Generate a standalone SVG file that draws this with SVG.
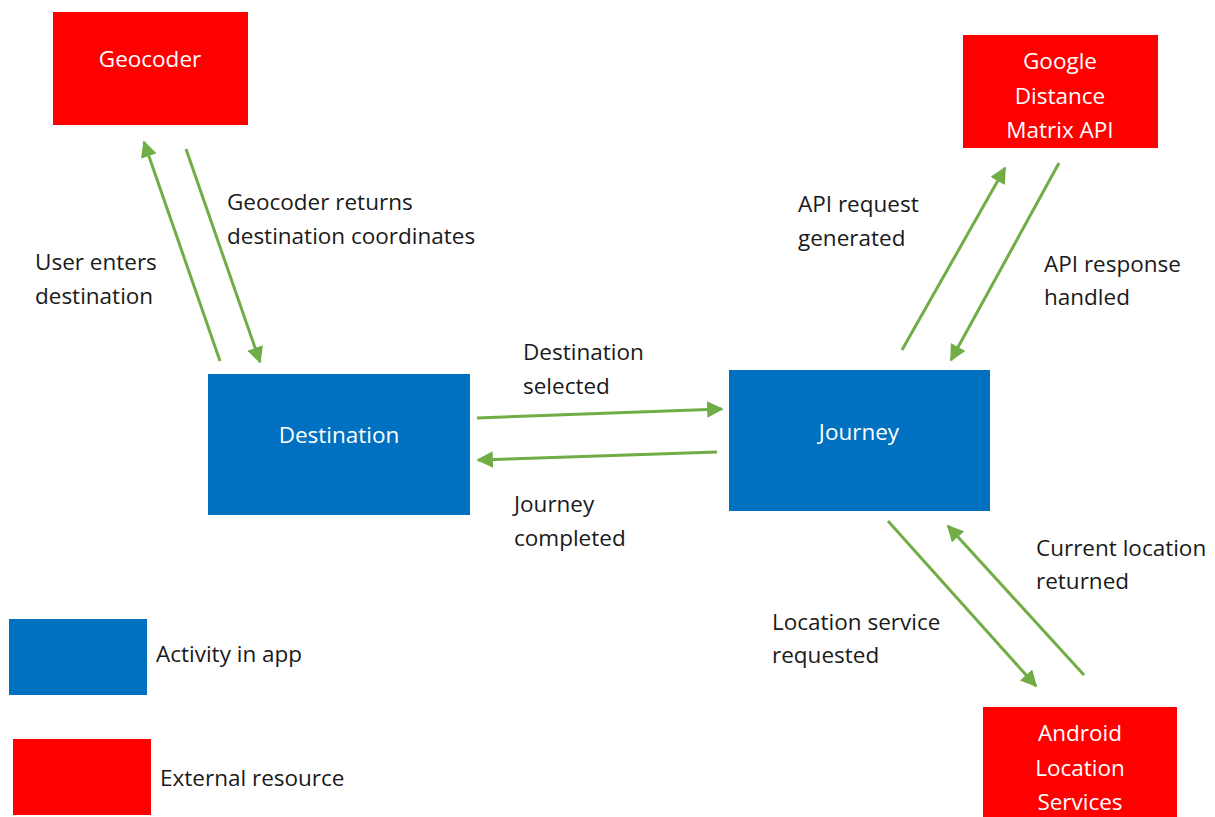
<svg xmlns="http://www.w3.org/2000/svg" width="1215" height="817" viewBox="0 0 1215 817">
<style>
.ext{fill:#FF0000}
.act{fill:#0070C0}
.nt{font-family:"Open Sans","Noto Sans",sans-serif;font-size:22.5px;fill:#FFFFFF;text-anchor:middle;dominant-baseline:central}
.lb{font-family:"Open Sans","Noto Sans",sans-serif;font-size:22.5px;fill:#1a1a1a;dominant-baseline:central}
.cn{stroke:#70AD47;stroke-width:3;fill:none;marker-end:url(#ah)}
</style>
<defs>
<marker id="ah" viewBox="0 0 10 10" refX="9" refY="5" markerWidth="5.5" markerHeight="5.5" orient="auto" markerUnits="strokeWidth">
<path d="M0,0 L10,5 L0,10 z" fill="#70AD47"/>
</marker>
</defs>
<rect width="1215" height="817" fill="#FFFFFF"/>
<g id="geocoder">
<rect class="ext" x="53" y="12" width="195" height="113"/>
<text class="nt" x="150" y="58">Geocoder</text>
</g>
<g id="google">
<rect class="ext" x="963" y="35" width="195" height="113"/>
<text class="nt" x="1060" y="60">Google</text>
<text class="nt" x="1060" y="95">Distance</text>
<text class="nt" x="1060" y="129">Matrix API</text>
</g>
<g id="destination">
<rect class="act" x="208" y="374" width="262" height="141"/>
<text class="nt" x="339" y="434">Destination</text>
</g>
<g id="journey">
<rect class="act" x="729" y="370" width="261" height="141"/>
<text class="nt" x="859" y="431">Journey</text>
</g>
<g id="android">
<rect class="ext" x="983" y="707" width="194" height="115"/>
<text class="nt" x="1080" y="732">Android</text>
<text class="nt" x="1080" y="767">Location</text>
<text class="nt" x="1080" y="801">Services</text>
</g>
<g id="legend">
<rect class="act" x="9" y="619" width="138" height="76"/>
<text class="lb" x="156" y="653">Activity in app</text>
<rect class="ext" x="13" y="739" width="138" height="76"/>
<text class="lb" x="160" y="777">External resource</text>
</g>
<g id="connectors">
<line class="cn" x1="220" y1="361" x2="144" y2="142"/>
<line class="cn" x1="186" y1="149" x2="260" y2="362"/>
<line class="cn" x1="902" y1="350" x2="1005" y2="168"/>
<line class="cn" x1="1059" y1="163" x2="951" y2="360"/>
<line class="cn" x1="477" y1="418" x2="722" y2="409"/>
<line class="cn" x1="717" y1="452" x2="478" y2="460"/>
<line class="cn" x1="888" y1="521" x2="1036" y2="686"/>
<line class="cn" x1="1084" y1="675" x2="948" y2="526"/>
</g>
<g id="labels">
<text class="lb" x="35" y="261">User enters</text>
<text class="lb" x="35" y="295">destination</text>
<text class="lb" x="227" y="201">Geocoder returns</text>
<text class="lb" x="227" y="235">destination coordinates</text>
<text class="lb" x="798" y="203">API request</text>
<text class="lb" x="798" y="237">generated</text>
<text class="lb" x="1044" y="263">API response</text>
<text class="lb" x="1044" y="296">handled</text>
<text class="lb" x="523" y="351">Destination</text>
<text class="lb" x="523" y="385">selected</text>
<text class="lb" x="514" y="503">Journey</text>
<text class="lb" x="514" y="537">completed</text>
<text class="lb" x="1036" y="547">Current location</text>
<text class="lb" x="1036" y="580">returned</text>
<text class="lb" x="772" y="621">Location service</text>
<text class="lb" x="772" y="654">requested</text>
</g>
</svg>
